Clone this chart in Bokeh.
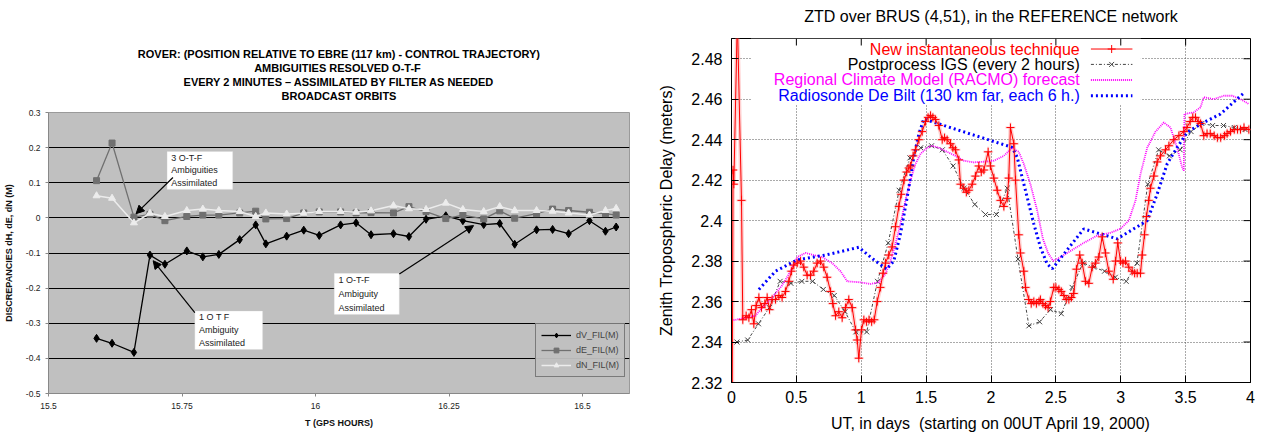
from bokeh.plotting import figure
from bokeh.models import (Range1d, FixedTicker, Label, BoxAnnotation, Arrow, Title,
                          NormalHead, Legend, LegendItem)
from bokeh.layouts import row, column
from bokeh.embed import file_html
from bokeh.resources import INLINE

FONT = "Liberation Sans"

# ---------------- Left chart data ----------------
t_hours = [15.590, 15.619, 15.660, 15.690, 15.718, 15.759, 15.789, 15.819, 15.858, 15.888,
           15.907, 15.946, 15.978, 16.007, 16.047, 16.076, 16.104, 16.146, 16.175, 16.207,
           16.244, 16.276, 16.315, 16.345, 16.373, 16.414, 16.444, 16.474, 16.513, 16.543,
           16.563]
dV = [-0.343, -0.357, -0.383, -0.106, -0.132, -0.094, -0.111, -0.104, -0.062, -0.020,
      -0.074, -0.052, -0.035, -0.050, -0.020, -0.014, -0.048, -0.045, -0.053, -0.004,
      0.006, -0.008, -0.019, -0.016, -0.075, -0.034, -0.033, -0.045, -0.008, -0.038,
      -0.026]
dE = [0.106, 0.213, 0.002, 0.010, -0.008, 0.004, 0.008, 0.008, 0.014, 0.019,
      -0.003, -0.002, 0.014, 0.017, 0.017, 0.014, 0.015, 0.014, 0.032, 0.018,
      -0.002, 0.008, -0.003, 0.020, -0.001, 0.012, 0.025, 0.021, 0.016, 0.012,
      0.008]
dN = [0.063, 0.056, -0.014, 0.013, 0.004, 0.021, 0.025, 0.021, 0.018, 0.004,
      0.014, 0.011, 0.013, 0.018, 0.018, 0.016, 0.020, 0.035, 0.026, 0.024,
      0.042, 0.024, 0.018, 0.032, 0.021, 0.021, 0.019, 0.014, 0.008, 0.021,
      0.027]
left_xticks = [15.5, 15.75, 16, 16.25, 16.5]
left_xtick_labels = ["15.5", "15.75", "16", "16.25", "16.5"]
left_yticks = [-0.5, -0.4, -0.3, -0.2, -0.1, 0, 0.1, 0.2, 0.3]
left_ytick_labels = ["-0.5", "-0.4", "-0.3", "-0.2", "-0.1", "0", "0.1", "0.2", "0.3"]
left_series_names = ["dV_FIL(M)", "dE_FIL(M)", "dN_FIL(M)"]
left_titles = ["ROVER: (POSITION RELATIVE TO EBRE (117 km) - CONTROL TRAJECTORY)",
               "AMBIGUITIES RESOLVED  O-T-F",
               "EVERY 2 MINUTES \u2013 ASSIMILATED BY FILTER AS NEEDED",
               "BROADCAST ORBITS"]

# ---------------- Right chart data ----------------
red_x = [0.005, 0.012, 0.018, 0.045, 0.077, 0.087, 0.113, 0.134, 0.154, 0.172, 0.190, 0.211,
         0.231, 0.257, 0.275, 0.293, 0.313, 0.339, 0.365, 0.390, 0.416, 0.442, 0.462, 0.480,
         0.506, 0.532, 0.557, 0.583, 0.609, 0.634, 0.660, 0.686, 0.711, 0.737, 0.763, 0.781,
         0.802, 0.827, 0.853, 0.879, 0.904, 0.930, 0.956, 0.969, 0.981, 1.002, 1.020, 1.040,
         1.060, 1.080, 1.100, 1.123, 1.148, 1.168, 1.187, 1.212, 1.238, 1.264, 1.290, 1.308,
         1.330, 1.350, 1.367, 1.380, 1.400, 1.418, 1.444, 1.470, 1.495, 1.515, 1.534, 1.552,
         1.572, 1.598, 1.624, 1.642, 1.662, 1.688, 1.706, 1.726, 1.752, 1.765, 1.790, 1.810,
         1.829, 1.855, 1.880, 1.906, 1.925, 1.945, 1.978, 1.996, 2.022, 2.048, 2.073, 2.099,
         2.125, 2.137, 2.150, 2.176, 2.189, 2.214, 2.227, 2.253, 2.266, 2.291, 2.310, 2.330,
         2.350, 2.370, 2.381, 2.400, 2.420, 2.440, 2.458, 2.484, 2.500, 2.523, 2.542, 2.562,
         2.580, 2.600, 2.620, 2.638, 2.659, 2.684, 2.703, 2.728, 2.754, 2.780, 2.805, 2.831,
         2.857, 2.882, 2.908, 2.942, 2.960, 2.977, 2.998, 3.017, 3.037, 3.062, 3.088, 3.107,
         3.127, 3.152, 3.165, 3.183, 3.198, 3.216, 3.229, 3.255, 3.281, 3.306, 3.345, 3.371,
         3.409, 3.448, 3.486, 3.510, 3.535, 3.555, 3.576, 3.597, 3.615, 3.640, 3.665, 3.690,
         3.720, 3.745, 3.770, 3.800, 3.820, 3.846, 3.875, 3.900, 3.923, 3.950, 3.987]
red_v = [2.300, 2.425, 2.418, 2.500, 2.410, 2.351, 2.353, 2.352, 2.356, 2.349, 2.358, 2.362,
         2.357, 2.359, 2.362, 2.356, 2.361, 2.361, 2.363, 2.362, 2.365, 2.370, 2.375, 2.378,
         2.379, 2.380, 2.377, 2.373, 2.373, 2.375, 2.379, 2.380, 2.377, 2.372, 2.365, 2.359,
         2.353, 2.355, 2.352, 2.357, 2.361, 2.357, 2.346, 2.341, 2.332, 2.346, 2.351, 2.350,
         2.351, 2.350, 2.351, 2.360, 2.367, 2.374, 2.379, 2.383, 2.387, 2.397, 2.407, 2.413,
         2.420, 2.424, 2.426, 2.427, 2.432, 2.435, 2.440, 2.444, 2.449, 2.451, 2.452, 2.451,
         2.450, 2.447, 2.440, 2.441, 2.440, 2.438, 2.436, 2.435, 2.430, 2.418, 2.416, 2.414,
         2.415, 2.418, 2.422, 2.427, 2.424, 2.425, 2.434, 2.427, 2.421, 2.415, 2.410, 2.407,
         2.411, 2.421, 2.446, 2.438, 2.420, 2.393, 2.384, 2.375, 2.367, 2.361, 2.359, 2.360,
         2.359, 2.360, 2.361, 2.359, 2.358, 2.357, 2.360, 2.367, 2.367, 2.366, 2.365, 2.363,
         2.361, 2.361, 2.362, 2.364, 2.376, 2.383, 2.379, 2.370, 2.369, 2.377, 2.379, 2.382,
         2.392, 2.384, 2.375, 2.371, 2.380, 2.389, 2.380, 2.379, 2.380, 2.377, 2.375, 2.374,
         2.374, 2.374, 2.383, 2.393, 2.402, 2.410, 2.416, 2.422, 2.429, 2.432, 2.435, 2.437,
         2.440, 2.442, 2.444, 2.446, 2.449, 2.451, 2.451, 2.449, 2.448, 2.442, 2.443, 2.443,
         2.442, 2.441, 2.441, 2.442, 2.443, 2.444, 2.445, 2.445, 2.445, 2.446, 2.445]

igs_x = [0.042, 0.125, 0.208, 0.292, 0.375, 0.458, 0.542, 0.625, 0.708, 0.792, 0.875, 0.958,
         1.042, 1.125, 1.208, 1.292, 1.375, 1.458, 1.542, 1.625, 1.708, 1.792, 1.875, 1.958,
         2.042, 2.125, 2.208, 2.292, 2.375, 2.458, 2.542, 2.625, 2.708, 2.792, 2.875, 2.958,
         3.042, 3.125, 3.208, 3.292, 3.375, 3.458, 3.542, 3.625, 3.708, 3.792, 3.875, 3.958]
igs_v = [2.340, 2.341, 2.349, 2.357, 2.370, 2.369, 2.370, 2.370, 2.366, 2.363, 2.355, 2.345,
         2.345, 2.370, 2.389, 2.415, 2.431, 2.436, 2.437, 2.435, 2.427, 2.416, 2.408, 2.403,
         2.403, 2.416, 2.381, 2.348, 2.350, 2.356, 2.354, 2.367, 2.379, 2.377, 2.375, 2.372,
         2.370, 2.379, 2.418, 2.435, 2.432, 2.435, 2.444, 2.448, 2.447, 2.447, 2.446, 2.445]

racmo_x = [0.000, 0.108, 0.185, 0.236, 0.313, 0.390, 0.455, 0.506, 0.570, 0.634, 0.699, 0.776,
           0.840, 0.892, 0.994, 1.071, 1.135, 1.187, 1.225, 1.264, 1.302, 1.341, 1.380, 1.418,
           1.457, 1.508, 1.547, 1.598, 1.662, 1.726, 1.790, 1.868, 1.945, 2.022, 2.099, 2.163,
           2.214, 2.253, 2.304, 2.356, 2.400, 2.440, 2.480, 2.536, 2.613, 2.715, 2.818, 2.921,
           2.998, 3.062, 3.114, 3.152, 3.204, 3.268, 3.332, 3.383, 3.435, 3.474, 3.486, 3.491,
           3.563, 3.615, 3.640, 3.717, 3.794, 3.859, 3.923, 3.987]
racmo_v = [2.3506, 2.352, 2.353, 2.357, 2.362, 2.368, 2.375, 2.382, 2.384, 2.383, 2.382, 2.379,
           2.375, 2.370, 2.3695, 2.3687, 2.3695, 2.3737, 2.380, 2.3885, 2.3984, 2.410, 2.420, 2.428,
           2.433, 2.436, 2.437, 2.436, 2.434, 2.432, 2.4296, 2.4288, 2.4291, 2.4296, 2.432, 2.436,
           2.434, 2.428, 2.418, 2.405, 2.391, 2.384, 2.380, 2.382, 2.385, 2.389, 2.3926, 2.394,
           2.396, 2.400, 2.410, 2.423, 2.436, 2.444, 2.4485, 2.446, 2.436, 2.426, 2.4247, 2.4527,
           2.4535, 2.456, 2.461, 2.460, 2.4617, 2.4617, 2.460, 2.4576]

sonde_x = [0.211, 0.339, 0.506, 0.725, 0.981, 1.090, 1.195, 1.251, 1.302, 1.354, 1.405, 1.444,
           1.482, 2.163, 2.202, 2.240, 2.279, 2.330, 2.381, 2.433, 2.472, 2.715, 2.973, 3.204,
           3.281, 3.358, 3.435, 3.512, 3.615, 3.769, 3.954]
sonde_v = [2.366, 2.375, 2.3806, 2.383, 2.3868, 2.381, 2.376, 2.380, 2.3934, 2.4115, 2.4313, 2.4428,
           2.4502, 2.4362, 2.4313, 2.4214, 2.4115, 2.3984, 2.3868, 2.3786, 2.3762, 2.3959, 2.391, 2.400,
           2.4132, 2.4281, 2.4362, 2.4436, 2.4477, 2.4527, 2.4634]

right_xticks = [0, 0.5, 1, 1.5, 2, 2.5, 3, 3.5, 4]
right_xtick_labels = ["0", "0.5", "1", "1.5", "2", "2.5", "3", "3.5", "4"]
right_yticks = [2.32, 2.34, 2.36, 2.38, 2.40, 2.42, 2.44, 2.46, 2.48]
right_ytick_labels = ["2.32", "2.34", "2.36", "2.38", "2.4", "2.42", "2.44", "2.46", "2.48"]
right_legend_names = ["New instantaneous technique", "Postprocess IGS (every 2 hours)",
                      "Regional Climate Model (RACMO) forecast",
                      "Radiosonde De Bilt (130 km far, each 6 h.)"]

# =============== LEFT FIGURE ===============
p1 = figure(width=640, height=437, x_range=Range1d(15.5, 16.588), y_range=Range1d(-0.5, 0.3),
            output_backend="svg", toolbar_location=None, title=None,
            min_border_left=45, min_border_right=11, min_border_top=112, min_border_bottom=44)
p1.background_fill_color = "#c0c0c0"
p1.border_fill_color = "white"
p1.outline_line_color = "#9a9a9a"
p1.xgrid.visible = False
p1.ygrid.ticker = FixedTicker(ticks=left_yticks)
p1.ygrid.grid_line_color = "black"
p1.ygrid.grid_line_width = 1

p1.xaxis.ticker = FixedTicker(ticks=left_xticks)
p1.xaxis.major_label_overrides = dict(zip(left_xticks, left_xtick_labels))
p1.yaxis.ticker = FixedTicker(ticks=left_yticks)
p1.yaxis.major_label_overrides = dict(zip(left_yticks, left_ytick_labels))
for ax in (p1.xaxis[0], p1.yaxis[0]):
    ax.major_label_text_font = FONT
    ax.major_label_text_font_size = "8.5px"
    ax.major_label_text_color = "#222222"
    ax.axis_line_color = "#888888"
    ax.major_tick_line_color = "#888888"
    ax.major_tick_out = 3
    ax.major_tick_in = 0
    ax.minor_tick_line_color = None
    ax.axis_label_text_font = FONT
    ax.axis_label_text_font_size = "9px"
    ax.axis_label_text_font_style = "bold"
    ax.axis_label_text_color = "#111111"
p1.xaxis.axis_label = "T (GPS HOURS)"
p1.xaxis.major_label_standoff = 6
p1.xaxis.axis_label_standoff = 6
p1.yaxis.axis_label = "DISCREPANCIES dH, dE, dN (M)"
p1.yaxis.major_label_standoff = 5
p1.yaxis.axis_label_standoff = 9

l1 = p1.line(t_hours, dV, line_color="black", line_width=1.3)
s1 = p1.scatter(t_hours, dV, marker="diamond", size=8, fill_color="black", line_color="black")
l2 = p1.line(t_hours, dE, line_color="#707070", line_width=1.3)
s2 = p1.scatter(t_hours, dE, marker="square", size=6, fill_color="#707070", line_color="#707070")
l3 = p1.line(t_hours, dN, line_color="#ececec", line_width=1.5)
s3 = p1.scatter(t_hours, dN, marker="triangle", size=7, fill_color="#ececec", line_color="#ececec")

legend1 = Legend(items=[LegendItem(label=left_series_names[0], renderers=[l1, s1]),
                        LegendItem(label=left_series_names[1], renderers=[l2, s2]),
                        LegendItem(label=left_series_names[2], renderers=[l3, s3])],
                 location=(487, 16))
legend1.background_fill_color = "#c0c0c0"
legend1.border_line_color = "#333333"
legend1.label_text_font = FONT
legend1.label_text_font_size = "9px"
legend1.glyph_width = 30
legend1.glyph_height = 12
legend1.label_height = 12
legend1.spacing = 3
legend1.padding = 5
legend1.margin = 0
p1.add_layout(legend1)

# spacer between frame and title block, then the title lines (bottom line first)
p1.add_layout(Title(text="\u00a0", text_font=FONT, text_font_size="8px", standoff=0), "above")
for txt in reversed(left_titles):
    p1.add_layout(Title(text=txt, align="center", text_font=FONT,
                        text_font_size="11px", text_font_style="bold", text_color="black",
                        standoff=0), "above")

# Annotation boxes
boxes = [
    dict(l=15.722, r=15.845, t=0.189, b=0.081, lines=["3 O-T-F", "Ambiguities", "Assimilated"]),
    dict(l=15.774, r=15.901, t=-0.265, b=-0.375, lines=["1 O T F", "Ambiguity", "Assimilated"]),
    dict(l=16.035, r=16.157, t=-0.158, b=-0.275, lines=["1 O-T-F", "Ambiguity", "Assimilated"]),
]
for bx in boxes:
    p1.add_layout(BoxAnnotation(left=bx["l"], right=bx["r"], top=bx["t"], bottom=bx["b"],
                                fill_color="white", fill_alpha=1.0, line_color="#d0d0d0"))
    step = (bx["t"] - bx["b"]) / 3.0
    for i, txt in enumerate(bx["lines"]):
        p1.add_layout(Label(x=bx["l"] + 0.008, y=bx["t"] - step * (i + 0.5), text=txt,
                            text_align="left", text_baseline="middle", text_font=FONT,
                            text_font_size="9px", text_color="#222222"))

arrows = [(15.733, 0.115, 15.664, 0.012),
          (15.774, -0.270, 15.696, -0.122),
          (16.157, -0.160, 16.296, -0.022)]
for xs, ys, xe, ye in arrows:
    p1.add_layout(Arrow(end=NormalHead(size=8, fill_color="black", line_color="black"),
                        x_start=xs, y_start=ys, x_end=xe, y_end=ye,
                        line_color="black", line_width=1.2))

# =============== RIGHT FIGURE ===============
RX0, RX1, RY0, RY1 = 0, 4, 2.32, 2.49
p2 = figure(width=625, height=437, x_range=Range1d(RX0, RX1), y_range=Range1d(RY0, RY1),
            output_backend="svg", toolbar_location=None, title=None,
            min_border_left=91, min_border_right=15, min_border_top=38, min_border_bottom=55)
p2.background_fill_color = "white"
p2.border_fill_color = "white"
p2.outline_line_color = "black"
p2.outline_line_width = 1
p2.xgrid.ticker = FixedTicker(ticks=right_xticks)
p2.ygrid.ticker = FixedTicker(ticks=right_yticks)
p2.grid.grid_line_color = "#555555"
p2.grid.grid_line_dash = "1 2"
p2.grid.grid_line_width = 1

p2.xaxis.ticker = FixedTicker(ticks=right_xticks)
p2.xaxis.major_label_overrides = dict(zip(right_xticks, right_xtick_labels))
p2.yaxis.ticker = FixedTicker(ticks=right_yticks)
p2.yaxis.major_label_overrides = dict(zip(right_yticks, right_ytick_labels))
for ax in (p2.xaxis[0], p2.yaxis[0]):
    ax.major_label_text_font = FONT
    ax.major_label_text_font_size = "16px"
    ax.major_label_text_color = "black"
    ax.axis_line_color = "black"
    ax.major_tick_line_color = "black"
    ax.major_tick_in = 7
    ax.major_tick_out = 0
    ax.minor_tick_line_color = None
    ax.axis_label_text_font = FONT
    ax.axis_label_text_font_size = "16px"
    ax.axis_label_text_font_style = "normal"
    ax.axis_label_text_color = "black"
p2.xaxis.axis_label = "UT, in days\u00a0 (starting on 00UT April 19, 2000)"
p2.xaxis.major_label_standoff = 8
p2.xaxis.axis_label_standoff = 9
p2.yaxis.axis_label = "Zenith Tropospheric Delay (meters)"
p2.yaxis.major_label_standoff = 9
p2.yaxis.axis_label_standoff = 13

p2.add_layout(Title(text="\u00a0", text_font=FONT, text_font_size="11px", standoff=0), "above")
p2.add_layout(Title(text="ZTD over BRUS (4,51), in the REFERENCE network", align="center",
                    text_font=FONT, text_font_size="16px", text_font_style="normal",
                    text_color="black", standoff=0), "above")

# mirrored inward ticks on the top and right frame edges
tick_dy = 7.0 / 344.0 * (RY1 - RY0)
tick_dx = 7.0 / 519.0 * (RX1 - RX0)
p2.segment(x0=right_xticks, y0=[RY1] * len(right_xticks), x1=right_xticks,
           y1=[RY1 - tick_dy] * len(right_xticks), line_color="black", line_width=1)
p2.segment(x0=[RX1] * len(right_yticks), y0=right_yticks, x1=[RX1 - tick_dx] * len(right_yticks),
           y1=right_yticks, line_color="black", line_width=1)

# opaque key background
p2.add_layout(BoxAnnotation(left=0.15, right=3.155, top=RY1, bottom=2.4575,
                            fill_color="white", fill_alpha=1.0, line_color=None,
                            level="underlay"))

# series
p2.line(red_x, red_v, line_color="#ff9a9a", line_width=4, line_alpha=0.45)
p2.scatter(red_x, red_v, marker="cross", size=10, line_color="#ff9a9a", line_width=2, line_alpha=0.45)
p2.line(igs_x, igs_v, line_color="#444444", line_width=1, line_dash="3 2 1 2")
p2.scatter(igs_x, igs_v, marker="x", size=7, line_color="#444444", line_width=1)
p2.line(racmo_x, racmo_v, line_color="#ff00ff", line_width=1.8, line_dash="1 1")
p2.line(sonde_x, sonde_v, line_color="#0000ff", line_width=3, line_dash="2 3")
p2.line(red_x, red_v, line_color="#ff0000", line_width=1)
p2.scatter(red_x, red_v, marker="cross", size=8, line_color="#ff0000", line_width=1)

# key (text right-aligned, sample to the right)
key_y = [2.4848, 2.4772, 2.4695, 2.4617]
key_colors = ["#ff0000", "black", "#ff00ff", "#0000ff"]
for txt, yy, col in zip(right_legend_names, key_y, key_colors):
    p2.add_layout(Label(x=2.684, y=yy, text=txt, text_align="right", text_baseline="middle",
                        text_font=FONT, text_font_size="16px", text_color=col))
kx = [2.77, 3.09]
p2.line(kx, [key_y[0]] * 2, line_color="#ff0000", line_width=1)
p2.scatter([2.93], [key_y[0]], marker="cross", size=8, line_color="#ff0000")
p2.line(kx, [key_y[1]] * 2, line_color="#444444", line_width=1, line_dash="3 2 1 2")
p2.scatter([2.93], [key_y[1]], marker="x", size=7, line_color="#444444")
p2.line(kx, [key_y[2]] * 2, line_color="#ff00ff", line_width=1.8, line_dash="1 1")
p2.line(kx, [key_y[3]] * 2, line_color="#0000ff", line_width=3, line_dash="2 3")

layout = row(column(p1), column(p2))
open("out.html", "w").write(file_html(layout, INLINE))
